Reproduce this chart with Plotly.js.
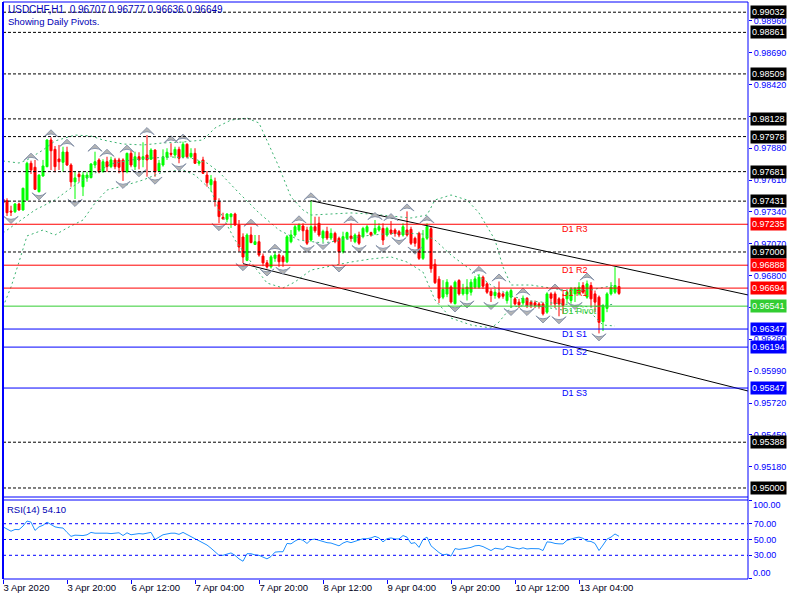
<!DOCTYPE html>
<html><head><meta charset="utf-8">
<script src="https://cdn.plot.ly/plotly-3.0.1.min.js"></script>
<style>html,body{margin:0;padding:0;background:#fff}#chart{width:800px;height:600px}</style>
</head><body><div id="chart"></div>
<script>
// ---------------- DATA ----------------
const symbolName = "USDCHF,H1";
const subtitle = "Showing Daily Pivots.";
const timeTickIdx = [0,16,32,48,64,80,96,112,128,144];
const timeTickText = ["3 Apr 2020","3 Apr 20:00","6 Apr 12:00","7 Apr 04:00","7 Apr 20:00","8 Apr 12:00","9 Apr 04:00","9 Apr 20:00","10 Apr 12:00","13 Apr 04:00"];
const priceTicks = [0.98960,0.98690,0.98420,0.98150,0.97880,0.97610,0.97340,0.97070,0.96800,0.96530,0.96260,0.95990,0.95720,0.95450,0.95180];

const open = [0.97449,0.97435,0.97347,0.97341,0.97407,0.97356,0.97441,0.97752,0.97718,0.97511,
0.97644,0.97723,0.97949,0.97870,0.97788,0.97760,0.97847,0.97737,0.97594,0.97658,
0.97553,0.97627,0.97630,0.97737,0.97780,0.97680,0.97765,0.97723,0.97780,0.97780,
0.97780,0.97680,0.97836,0.97723,0.97807,0.97785,0.97822,0.97786,0.97864,0.97689,
0.97737,0.97803,0.97836,0.97822,0.97870,0.97803,0.97913,0.97807,0.97836,0.97752,
0.97780,0.97652,0.97570,0.97600,0.97427,0.97294,0.97277,0.97299,0.97322,0.97229,
0.97127,0.96929,0.97144,0.97064,0.97087,0.96965,0.96908,0.96874,0.96946,0.96974,
0.96959,0.96917,0.97087,0.97144,0.97186,0.97220,0.97186,0.97101,0.97214,0.97243,
0.97118,0.97175,0.97118,0.97158,0.97116,0.97002,0.97116,0.97135,0.97087,0.97144,
0.97130,0.97172,0.97164,0.97158,0.97186,0.97200,0.97144,0.97186,0.97186,0.97172,
0.97144,0.97186,0.97192,0.97116,0.97158,0.96946,0.97116,0.97197,0.96896,0.96770,
0.96617,0.96643,0.96704,0.96562,0.96758,0.96645,0.96645,0.96659,0.96702,0.96702,
0.96786,0.96730,0.96666,0.96631,0.96653,0.96645,0.96588,0.96617,0.96603,0.96575,
0.96568,0.96608,0.96575,0.96569,0.96560,0.96560,0.96490,0.96645,0.96645,0.96603,
0.96603,0.96603,0.96589,0.96645,0.96645,0.96716,0.96617,0.96716,0.96645,0.96617,
0.96410,0.96522,0.96645,0.96659,0.96707];
const high = [0.97458,0.97455,0.97392,0.97415,0.97418,0.97545,0.97765,0.97774,0.97780,0.97658,
0.97780,0.97955,0.97972,0.97898,0.97907,0.97892,0.97892,0.97752,0.97686,0.97680,
0.97680,0.97680,0.97752,0.97850,0.97794,0.97786,0.97807,0.97807,0.97798,0.97798,
0.97794,0.97842,0.97864,0.97850,0.97845,0.97930,0.97991,0.97879,0.97870,0.97780,
0.97870,0.97879,0.97921,0.97892,0.97892,0.97935,0.97921,0.97879,0.97879,0.97774,
0.97807,0.97686,0.97652,0.97630,0.97455,0.97333,0.97328,0.97328,0.97333,0.97271,
0.97158,0.97158,0.97214,0.97144,0.97144,0.96987,0.96932,0.96974,0.97002,0.96987,
0.96974,0.97144,0.97186,0.97229,0.97243,0.97243,0.97214,0.97438,0.97299,0.97299,
0.97189,0.97214,0.97200,0.97172,0.97130,0.97172,0.97172,0.97243,0.97158,0.97172,
0.97214,0.97229,0.97172,0.97271,0.97243,0.97243,0.97214,0.97262,0.97200,0.97186,
0.97243,0.97344,0.97214,0.97130,0.97172,0.97186,0.97243,0.97214,0.96940,0.96795,
0.96761,0.96770,0.96718,0.96758,0.96770,0.96730,0.96770,0.96770,0.96795,0.96814,
0.96800,0.96744,0.96688,0.96688,0.96750,0.96659,0.96673,0.96688,0.96617,0.96603,
0.96631,0.96617,0.96589,0.96589,0.96575,0.96575,0.96659,0.96659,0.96665,0.96617,
0.96645,0.96673,0.96702,0.96702,0.96744,0.96744,0.96758,0.96744,0.96673,0.96631,
0.96560,0.96659,0.96744,0.96871,0.96777];
const low = [0.97398,0.97305,0.97305,0.97331,0.97350,0.97350,0.97435,0.97661,0.97525,0.97505,
0.97638,0.97718,0.97695,0.97675,0.97695,0.97680,0.97729,0.97553,0.97449,0.97595,
0.97474,0.97595,0.97624,0.97710,0.97667,0.97674,0.97680,0.97710,0.97701,0.97667,
0.97602,0.97667,0.97718,0.97695,0.97701,0.97718,0.97638,0.97780,0.97638,0.97680,
0.97723,0.97780,0.97807,0.97794,0.97752,0.97794,0.97794,0.97794,0.97746,0.97731,
0.97661,0.97553,0.97511,0.97385,0.97244,0.97277,0.97252,0.97204,0.97221,0.97002,
0.96905,0.96922,0.97074,0.97059,0.96960,0.96880,0.96860,0.96860,0.96917,0.96874,
0.96874,0.96905,0.97074,0.97129,0.97172,0.97101,0.97059,0.97087,0.97163,0.97129,
0.97084,0.97101,0.97101,0.97074,0.96894,0.96987,0.97101,0.97087,0.97074,0.97059,
0.97116,0.97158,0.97130,0.97144,0.97172,0.97059,0.97130,0.97144,0.97130,0.97125,
0.97130,0.97130,0.97059,0.97045,0.96932,0.96932,0.97101,0.96824,0.96729,0.96567,
0.96600,0.96617,0.96562,0.96555,0.96631,0.96631,0.96589,0.96631,0.96688,0.96688,
0.96688,0.96645,0.96576,0.96604,0.96604,0.96604,0.96562,0.96525,0.96546,0.96525,
0.96546,0.96525,0.96525,0.96525,0.96520,0.96462,0.96476,0.96546,0.96525,0.96455,
0.96476,0.96562,0.96562,0.96576,0.96631,0.96645,0.96603,0.96532,0.96490,0.96310,
0.96330,0.96490,0.96631,0.96645,0.96636];
const close = [0.97415,0.97333,0.97339,0.97407,0.97356,0.97540,0.97752,0.97695,0.97531,0.97652,
0.97729,0.97949,0.97858,0.97723,0.97765,0.97847,0.97737,0.97594,0.97628,0.97638,
0.97652,0.97652,0.97746,0.97765,0.97680,0.97765,0.97723,0.97780,0.97723,0.97718,
0.97680,0.97836,0.97737,0.97807,0.97780,0.97807,0.97780,0.97864,0.97680,0.97752,
0.97807,0.97845,0.97828,0.97870,0.97794,0.97913,0.97807,0.97836,0.97752,0.97765,
0.97667,0.97587,0.97613,0.97441,0.97300,0.97280,0.97322,0.97322,0.97229,0.97042,
0.96957,0.97144,0.97080,0.97087,0.96974,0.96908,0.96874,0.96959,0.96974,0.96917,
0.96917,0.97129,0.97144,0.97214,0.97229,0.97180,0.97074,0.97214,0.97180,0.97144,
0.97175,0.97118,0.97158,0.97087,0.97002,0.97130,0.97164,0.97116,0.97144,0.97074,
0.97200,0.97214,0.97144,0.97200,0.97214,0.97101,0.97200,0.97158,0.97158,0.97144,
0.97214,0.97144,0.97074,0.97074,0.96946,0.97116,0.97214,0.96858,0.96740,0.96609,
0.96684,0.96744,0.96576,0.96744,0.96645,0.96688,0.96702,0.96744,0.96772,0.96786,
0.96710,0.96659,0.96631,0.96659,0.96617,0.96625,0.96659,0.96673,0.96560,0.96553,
0.96608,0.96546,0.96546,0.96546,0.96541,0.96476,0.96645,0.96608,0.96560,0.96560,
0.96546,0.96659,0.96688,0.96688,0.96702,0.96659,0.96730,0.96603,0.96575,0.96404,
0.96546,0.96645,0.96702,0.96716,0.96649];

const rsi = [66,62.7,60.5,62.7,62.5,67,73.4,72,61.5,66,
68,72,69,66,65,64.5,59,54,55.5,55,
55,56,59,58,58,58.5,58,57.5,58,58.5,
55,58.5,56,57,57.5,57,58,59,50,53,
56,57,58,58,56.5,59,56.5,54,50.5,49,
46.5,43,39,34,30,30,32,33,30,25.5,
22.5,32,32,30.5,30,27.5,25.5,28.5,34,34.5,
34.5,45,44.5,48,50.7,49,45,49.8,50.5,49,
47,46,45.5,44,42,45.5,47.5,46,47.5,49.5,
51,51,52,54,52,47,51,52,50.7,50.7,
55,53,45,46,40,50,53,42,37.5,33.5,
30.5,31.5,29,38.5,37.5,38,39,40,42,42.5,
41,38.5,36,39,38,37.5,41.5,40,39,38,
39.5,38,38.5,38.5,38.3,36,47,46.5,45,44.5,
44.5,49,50.7,52,53,51.5,48,47.5,45,36,
43,50.5,53,57,54.1];
const rsiLevels = [70,50,30];

const bbUpperIdx = [0,4,6,10,13,18,22,25,30,35,40,45,50,53,57,61,64,66,69,72,75,77,82,87,92,97,102,106,108,112,116,119,123,125,127,132,140,147,153];
const bbUpper = [0.97771,0.97754,0.97780,0.97864,0.97941,0.97991,0.97983,0.97949,0.97915,0.97907,0.97924,0.97932,0.97949,0.98051,0.98118,0.98135,0.98093,0.97949,0.97720,0.97466,0.97356,0.97313,0.97322,0.97331,0.97322,0.97305,0.97288,0.97313,0.97441,0.97483,0.97441,0.97331,0.97102,0.96873,0.96720,0.96720,0.96678,0.96678,0.96720];
const bbMidIdx = [0,4,8,13,18,23,27,32,37,42,47,51,54,59,64,69,74,80,85,90,95,100,105,108,112,117,122,127,132,140,147,153];
const bbMid = [0.97161,0.97262,0.97356,0.97441,0.97568,0.97669,0.97746,0.97780,0.97796,0.97805,0.97796,0.97754,0.97678,0.97500,0.97331,0.97186,0.97101,0.97076,0.97101,0.97135,0.97152,0.97161,0.97152,0.97101,0.96974,0.96847,0.96720,0.96627,0.96584,0.96559,0.96533,0.96559];
const bbLowerIdx = [0,2,4,6,10,13,16,20,23,26,30,35,40,45,48,52,54,58,62,66,70,73,77,82,87,92,97,101,105,108,112,117,122,124,127,132,140,147,150,153];
const bbLower = [0.96534,0.96703,0.96915,0.97136,0.97186,0.97144,0.97203,0.97271,0.97415,0.97525,0.97559,0.97610,0.97678,0.97695,0.97652,0.97525,0.97356,0.97102,0.96915,0.96737,0.96695,0.96746,0.96847,0.96881,0.96915,0.96941,0.96958,0.96915,0.96830,0.96593,0.96440,0.96381,0.96356,0.96406,0.96534,0.96551,0.96508,0.96483,0.96381,0.96373];

const upFractalIdx = [7,12,16,23,26,31,36,42,45,62,68,74,77,87,93,97,101,106,119,124,130,138,146];
const downFractalIdx = [2,9,18,30,34,38,44,54,60,66,70,76,80,84,89,95,99,103,113,116,122,127,131,135,139,143,149];

const trendUpperIdx = [77,186.25];
const trendUpperPrice = [0.97435,0.96636];
const trendLowerIdx = [60,186.25];
const trendLowerPrice = [0.96901,0.95822];

const dashedLevels = [0.99032,0.98861,0.98509,0.98128,0.97978,0.97681,0.97431,0.97000,0.95388,0.95000];
const pivotNames = ["D1 R3","D1 R2","D1 R1","D1 Pivot","D1 S1","D1 S2","D1 S3"];
const pivotLevels = [0.97235,0.96888,0.96694,0.96541,0.96347,0.96194,0.95847];
const pivotKinds = ["R","R","R","P","S","S","S"];

// ---------------- STYLE / LAYOUT ----------------
const FONT = "Liberation Sans, Arial, sans-serif";
const BLUE = "#0000ff";
const TXT = "#0000b4";
const kindColor = {R:"#ff0000", P:"#32cd32", S:"#0000ff"};
const margin = {l:3, r:52, t:2, b:21};
const plotH = 600 - margin.t - margin.b;
const mainDomain = [0.1421, 1];
const rsiDomain = [0, 0.1369];
const yRange = [0.949236, 0.991185];
const xRange = [0, 186.25];
const pricePerPx = (yRange[1]-yRange[0]) / (plotH*(mainDomain[1]-mainDomain[0]));
const idx = open.map((_, i) => i);

const traces = [];
const bbLine = {color:"#3cb371", width:1, dash:"2px,3px"};
[[bbUpperIdx,bbUpper],[bbMidIdx,bbMid],[bbLowerIdx,bbLower]].forEach(([xi,yv]) => {
  traces.push({type:"scatter", mode:"lines", x:xi, y:yv, line:bbLine, xaxis:"x", yaxis:"y", hoverinfo:"skip"});
});
traces.push({
  type:"candlestick", x:idx, open:open, high:high, low:low, close:close,
  xaxis:"x", yaxis:"y", whiskerwidth:0,
  increasing:{line:{color:"#00ff00", width:1}, fillcolor:"#00ff00"},
  decreasing:{line:{color:"#ff0000", width:1}, fillcolor:"#ff0000"},
  hoverinfo:"skip"
});
traces.push({type:"scatter", mode:"lines", x:trendUpperIdx, y:trendUpperPrice, line:{color:"#000000", width:1}, xaxis:"x", yaxis:"y", hoverinfo:"skip"});
traces.push({type:"scatter", mode:"lines", x:trendLowerIdx, y:trendLowerPrice, line:{color:"#000000", width:1}, xaxis:"x", yaxis:"y", hoverinfo:"skip"});
const fracOff = 7.5 * pricePerPx;
const fracMarker = {symbol:"arrow-wide", size:10, color:"#b4b4b4", line:{color:"#8a96ac", width:1}};
traces.push({type:"scatter", mode:"markers", x:upFractalIdx, y:upFractalIdx.map(i => high[i] + fracOff),
  marker:fracMarker, xaxis:"x", yaxis:"y", hoverinfo:"skip"});
traces.push({type:"scatter", mode:"markers", x:downFractalIdx, y:downFractalIdx.map(i => low[i] - fracOff),
  marker:Object.assign({angle:180}, fracMarker), xaxis:"x", yaxis:"y", hoverinfo:"skip"});
traces.push({type:"scatter", mode:"lines", x:idx, y:rsi, line:{color:"#1e90ff", width:1}, xaxis:"x2", yaxis:"y2", hoverinfo:"skip"});

const shapes = [];
const annotations = [];
dashedLevels.forEach(v => {
  shapes.push({type:"line", xref:"paper", x0:0, x1:1, yref:"y", y0:v, y1:v, line:{color:"#000000", width:1, dash:"3px,2px"}});
  annotations.push({xref:"paper", x:1, xanchor:"left", xshift:2, yref:"y", y:v, yanchor:"middle", text:v.toFixed(5),
    showarrow:false, bgcolor:"#000000", borderpad:1, font:{family:FONT, size:9, color:"#ffffff"}});
});
pivotLevels.forEach((v, k) => {
  const c = kindColor[pivotKinds[k]];
  shapes.push({type:"line", xref:"paper", x0:0, x1:1, yref:"y", y0:v, y1:v, line:{color:c, width:1}});
  annotations.push({xref:"paper", x:1, xanchor:"left", xshift:2, yref:"y", y:v, yanchor:"middle", text:v.toFixed(5),
    showarrow:false, bgcolor:c, borderpad:1, font:{family:FONT, size:9, color:"#ffffff"}});
  annotations.push({xref:"x", x:139.2, xanchor:"left", yref:"y", y:v, yanchor:"middle", yshift:-5, text:pivotNames[k],
    showarrow:false, font:{family:FONT, size:9, color:c}});
});
rsiLevels.forEach(v => {
  shapes.push({type:"line", xref:"paper", x0:0, x1:1, yref:"y2", y0:v, y1:v, line:{color:BLUE, width:1, dash:"3px,3px"}});
});
// frames
const fr = {color:BLUE, width:1};
shapes.push({type:"line", xref:"paper", yref:"paper", x0:0, x1:0, y0:0, y1:1, line:{color:BLUE, width:2}});
shapes.push({type:"line", xref:"paper", yref:"paper", x0:1, x1:1, y0:0, y1:1, line:fr});
shapes.push({type:"line", xref:"paper", yref:"paper", x0:0, x1:1, y0:1, y1:1, line:fr});
shapes.push({type:"line", xref:"paper", yref:"paper", x0:0, x1:1, y0:mainDomain[0], y1:mainDomain[0], line:fr});
shapes.push({type:"line", xref:"paper", yref:"paper", x0:0, x1:1, y0:rsiDomain[1], y1:rsiDomain[1], line:fr});
shapes.push({type:"line", xref:"paper", yref:"paper", x0:0, x1:1, y0:0, y1:0, line:fr});

const n = close.length - 1;
annotations.push({xref:"paper", yref:"paper", x:0, y:1, xanchor:"left", yanchor:"middle", xshift:3, yshift:-7.5,
  text:symbolName + "  " + [open[n],high[n],low[n],close[n]].map(v=>v.toFixed(5)).join(" "),
  showarrow:false, font:{family:FONT, size:10, color:TXT}});
annotations.push({xref:"paper", yref:"paper", x:0, y:1, xanchor:"left", yanchor:"middle", xshift:3, yshift:-19,
  text:subtitle, showarrow:false, font:{family:FONT, size:9.5, color:TXT}});
annotations.push({xref:"paper", yref:"paper", x:0, y:rsiDomain[1], xanchor:"left", yanchor:"middle", xshift:2, yshift:-9.5,
  text:"RSI(14) " + rsi[n].toFixed(2), showarrow:false, font:{family:FONT, size:9.5, color:TXT}});
annotations.push({xref:"paper", x:1, xanchor:"left", xshift:3, yref:"y2", y:94, yanchor:"middle", text:"100.00", showarrow:false, font:{family:FONT, size:9, color:BLUE}});
annotations.push({xref:"paper", x:1, xanchor:"left", xshift:3, yref:"y2", y:7, yanchor:"middle", text:"0.00", showarrow:false, font:{family:FONT, size:9, color:BLUE}});

const layout = {
  width:800, height:600, margin:margin, paper_bgcolor:"#ffffff", plot_bgcolor:"#ffffff",
  showlegend:false, hovermode:false, dragmode:false,
  boxgap:0.5, boxgroupgap:0,
  xaxis:{domain:[0,1], anchor:"y", range:xRange, showticklabels:false, ticks:"", showgrid:false, zeroline:false, showline:false, rangeslider:{visible:false}, fixedrange:true},
  xaxis2:{domain:[0,1], anchor:"y2", matches:"x", range:xRange, tickmode:"array", tickvals:timeTickIdx, ticktext:timeTickText,
    ticks:"outside", ticklen:4, tickcolor:BLUE, tickwidth:1, ticklabelposition:"outside right",
    tickfont:{family:FONT, size:9.5, color:"#000020"}, showgrid:false, zeroline:false, showline:false, fixedrange:true},
  yaxis:{domain:mainDomain, anchor:"x", side:"right", range:yRange, tickmode:"array", tickvals:priceTicks, ticktext:priceTicks.map(v=>v.toFixed(5)),
    ticks:"outside", ticklen:3, tickcolor:BLUE, tickfont:{family:FONT, size:9, color:BLUE}, showgrid:false, zeroline:false, showline:false, fixedrange:true},
  yaxis2:{domain:rsiDomain, anchor:"x2", side:"right", range:[0,100], tickmode:"array", tickvals:[100,70,50,30,0], ticktext:["","70.00","50.00","30.00",""],
    ticks:"outside", ticklen:3, tickcolor:BLUE, tickfont:{family:FONT, size:9, color:BLUE}, showgrid:false, zeroline:false, showline:false, fixedrange:true},
  shapes:shapes, annotations:annotations
};
Plotly.newPlot("chart", traces, layout, {displayModeBar:false, staticPlot:true});
</script></body></html>
